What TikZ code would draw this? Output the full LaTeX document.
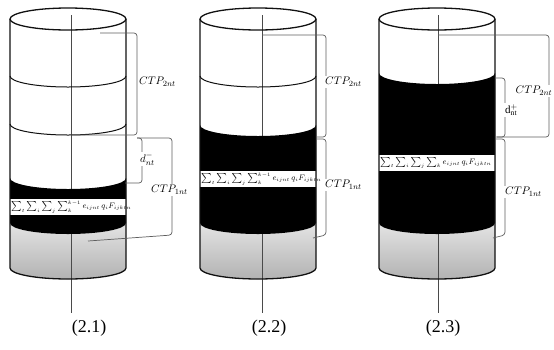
\documentclass[tikz,border=0pt]{standalone}
\usepackage{fontspec}
\setmainfont{Liberation Serif}
\usetikzlibrary{positioning}
\definecolor{rim}{HTML}{111111}
\definecolor{axisc}{HTML}{4A4A4A}
\definecolor{bracec}{HTML}{5E5E5E}
\definecolor{fillhi}{HTML}{E4E4E4}
\definecolor{filllo}{HTML}{B2B2B2}

\begin{document}
\begin{tikzpicture}[
  x=1pt,y=-1pt,
  rim/.style={draw=rim,line width=1.3pt},
  seam/.style={draw=rim,line width=1pt},
  axisl/.style={draw=axisc,line width=0.7pt},
  brk/.style={draw=bracec,line width=0.7pt,rounded corners=3pt},
  ctp/.style={font=\fontsize{11}{13}\selectfont,fill=white,inner sep=1pt,anchor=west},
  sumbox/.style={fill=white,anchor=north west,inner xsep=1pt,inner ysep=0pt,
                 text width=114pt,minimum height=16pt,align=left,
                 font=\fontsize{7.6}{9}\selectfont},
  tag/.style={font=\fontsize{18}{20}\selectfont},
  lowarc/.style={start angle=180,end angle=0,x radius=58,y radius=11},
  backarc/.style={start angle=0,end angle=180,x radius=58,y radius=11},
]
\useasboundingbox[fill=white] (0,0) rectangle (554,349);

%============================================================== CYLINDER 1 ===
\begin{scope}[xshift=10pt]
  % gray base and axis
  \shade[top color=fillhi,bottom color=filllo]
    (0,223) arc[lowarc] -- (116,268) arc[backarc] -- cycle;
  \draw[axisl] (61,15) -- (61,313);
  % black layer
  \fill[black] (0,178) arc[lowarc] -- (116,223) arc[backarc] -- cycle;
  \node[sumbox] (s1) at (0,199)
    {$\sum_t\sum_i\sum_j\sum_k^{k-1}e_{ijnt}\,q_iF_{ijktn}$};
  % seams and outline
  \draw[seam] (0,76) arc[lowarc];
  \draw[seam] (0,124) arc[lowarc];
  \draw[rim] (58,19) ellipse[x radius=58,y radius=11];
  \draw[rim] (0,19) -- (0,268) arc[lowarc] -- (116,19);

  % brackets
  \coordinate (u1) at (90,33);
  \coordinate (v1) at (61,135);
  \coordinate (w1) at (115,183);
  \coordinate (z1) at (78,241);
  \draw[brk] (u1) -- (127,33) -- (127,135) -- (v1);
  \draw[brk] (127,138) -- (132,138) -- (132,183) -- (w1);
  \draw[brk] (127,138) -- (162,138) -- (162,235) -- (z1);
  \node[ctp] (c2a) at (128,82) {$CTP_{2nt}$};
  \node[ctp] (d1)  at (129,159) {$d_{nt}^{-}$};
  \node[ctp] (c1a) at (140,190) {$CTP_{1nt}$};
  \node[tag] (t1) at (79,328) {(2.1)};
\end{scope}

%============================================================== CYLINDER 2 ===
\begin{scope}[xshift=200pt]
  \shade[top color=fillhi,bottom color=filllo]
    (0,223) arc[lowarc] -- (116,268) arc[backarc] -- cycle;
  \draw[axisl] (62,15) -- (62,313);
  \fill[black] (0,125) arc[lowarc] -- (116,223) arc[backarc] -- cycle;
  \node[sumbox] (s2) at (0,171)
    {$\sum_t\sum_i\sum_j\sum_k^{k-1}e_{ijnt}\,q_iF_{ijktn}$};
  \draw[seam] (0,76) arc[lowarc];
  \draw[rim] (58,19) ellipse[x radius=58,y radius=11];
  \draw[rim] (0,19) -- (0,268) arc[lowarc] -- (116,19);

  \coordinate (u2) at (62,35);
  \coordinate (v2) at (116,137);
  \coordinate (w2) at (116,139);
  \coordinate (z2) at (113,238);
  \draw[brk] (u2) -- (126,35) -- (126,137) -- (v2);
  \draw[brk] (w2) -- (126,139) -- (126,235) -- (z2);
  \node[ctp] (c2b) at (124,82) {$CTP_{2nt}$};
  \node[ctp] (c1b) at (124,185) {$CTP_{1nt}$};
  \node[tag] (t2) at (69,328) {(2.2)};
\end{scope}

%============================================================== CYLINDER 3 ===
\begin{scope}[xshift=379pt]
  \shade[top color=fillhi,bottom color=filllo]
    (0,223) arc[lowarc] -- (116,268) arc[backarc] -- cycle;
  \draw[axisl] (59,15) -- (59,313);
  \fill[black] (0,73) arc[lowarc] -- (116,223) arc[backarc] -- cycle;
  \node[sumbox] (s3) at (0,155)
    {$\sum_t\sum_i\sum_j\sum_k e_{ijnt}\,q_iF_{ijktn}$};
  \draw[rim] (58,19) ellipse[x radius=58,y radius=11];
  \draw[rim] (0,19) -- (0,268) arc[lowarc] -- (116,19);

  \coordinate (u3) at (59,35);
  \coordinate (v3) at (118,137);
  \coordinate (p3) at (116,78);
  \coordinate (q3) at (116,137);
  \coordinate (w3) at (116,139);
  \coordinate (z3) at (114,238);
  \draw[brk] (u3) -- (170,35) -- (170,137) -- (v3);
  \draw[brk] (p3) -- (126,78) -- (126,137) -- (q3);
  \draw[brk] (w3) -- (126,139) -- (126,235) -- (z3);
  \node[ctp,inner xsep=0.5pt] (c2c) at (136,91) {$CTP_{2nt}$};
  \node[ctp] (d3)  at (125,110) {$\mathrm{d}_{\mathrm{nt}}^{+}$};
  \node[ctp] (c1c) at (125,192) {$CTP_{1nt}$};
  \node[tag] (t3) at (64,328) {(2.3)};
\end{scope}

\end{tikzpicture}
\end{document}
